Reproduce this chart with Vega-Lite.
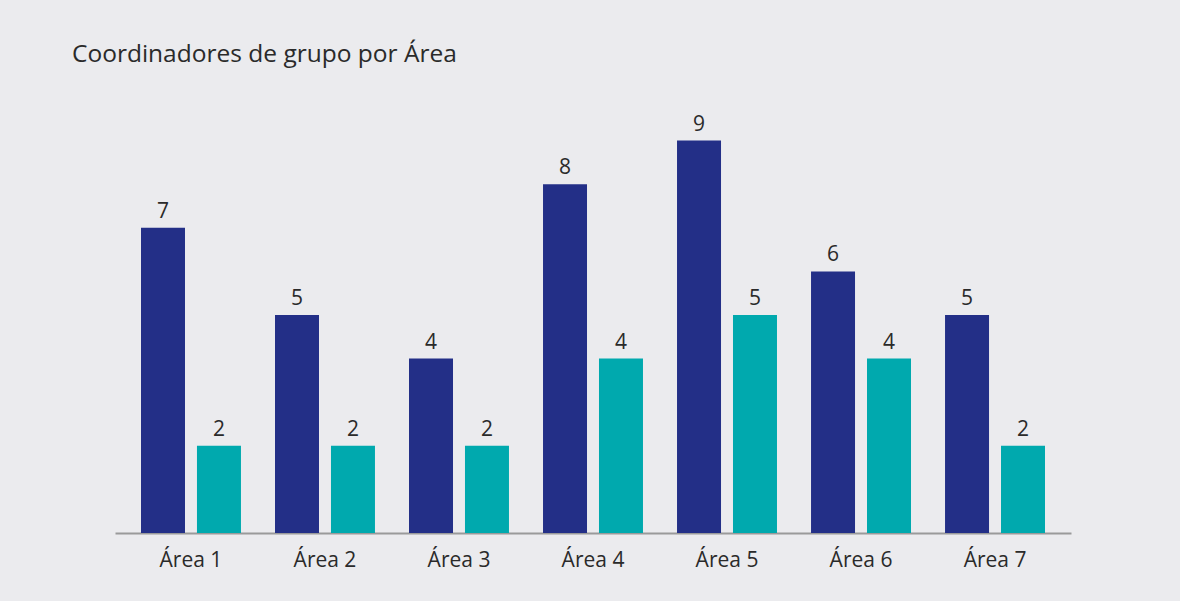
{
  "$schema": "https://vega.github.io/schema/vega-lite/v6.json",
  "width": 956,
  "height": 436,
  "autosize": {"type": "none"},
  "padding": {"left": 115, "top": 97, "right": 109, "bottom": 68},
  "background": "#ebebee",
  "title": {
    "text": "Coordinadores de grupo por Área",
    "anchor": "start",
    "frame": "group",
    "dx": -43,
    "offset": 30,
    "font": "Open Sans",
    "fontSize": 24.5,
    "fontWeight": "normal",
    "color": "#2a2a2a"
  },
  "data": {
    "values": [
      {"area": "Área 1", "serie": "Serie A", "valor": 7},
      {"area": "Área 1", "serie": "Serie B", "valor": 2},
      {"area": "Área 2", "serie": "Serie A", "valor": 5},
      {"area": "Área 2", "serie": "Serie B", "valor": 2},
      {"area": "Área 3", "serie": "Serie A", "valor": 4},
      {"area": "Área 3", "serie": "Serie B", "valor": 2},
      {"area": "Área 4", "serie": "Serie A", "valor": 8},
      {"area": "Área 4", "serie": "Serie B", "valor": 4},
      {"area": "Área 5", "serie": "Serie A", "valor": 9},
      {"area": "Área 5", "serie": "Serie B", "valor": 5},
      {"area": "Área 6", "serie": "Serie A", "valor": 6},
      {"area": "Área 6", "serie": "Serie B", "valor": 4},
      {"area": "Área 7", "serie": "Serie A", "valor": 5},
      {"area": "Área 7", "serie": "Serie B", "valor": 2}
    ]
  },
  "encoding": {
    "x": {
      "field": "area",
      "type": "nominal",
      "sort": null,
      "scale": {"paddingInner": 0.254, "paddingOuter": 0.194},
      "axis": {
        "title": null,
        "labelAngle": 0,
        "ticks": false,
        "labelPadding": 16,
        "labelFont": "Open Sans",
        "labelFontSize": 21,
        "labelColor": "#2a2a2a",
        "domainColor": "#9a9a9a",
        "domainWidth": 2
      }
    },
    "xOffset": {
      "field": "serie",
      "type": "nominal",
      "scale": {"paddingInner": 0.214, "paddingOuter": 0}
    },
    "y": {
      "field": "valor",
      "type": "quantitative",
      "scale": {"domain": [0, 10]},
      "axis": null
    }
  },
  "layer": [
    {
      "mark": {"type": "bar"},
      "encoding": {
        "color": {
          "field": "serie",
          "type": "nominal",
          "scale": {"domain": ["Serie A", "Serie B"], "range": ["#232f87", "#00a9ae"]},
          "legend": null
        }
      }
    },
    {
      "mark": {"type": "text", "baseline": "bottom", "dy": -6, "font": "Open Sans", "fontSize": 21, "color": "#2a2a2a"},
      "encoding": {"text": {"field": "valor", "type": "quantitative"}}
    }
  ],
  "config": {"view": {"stroke": null}}
}
